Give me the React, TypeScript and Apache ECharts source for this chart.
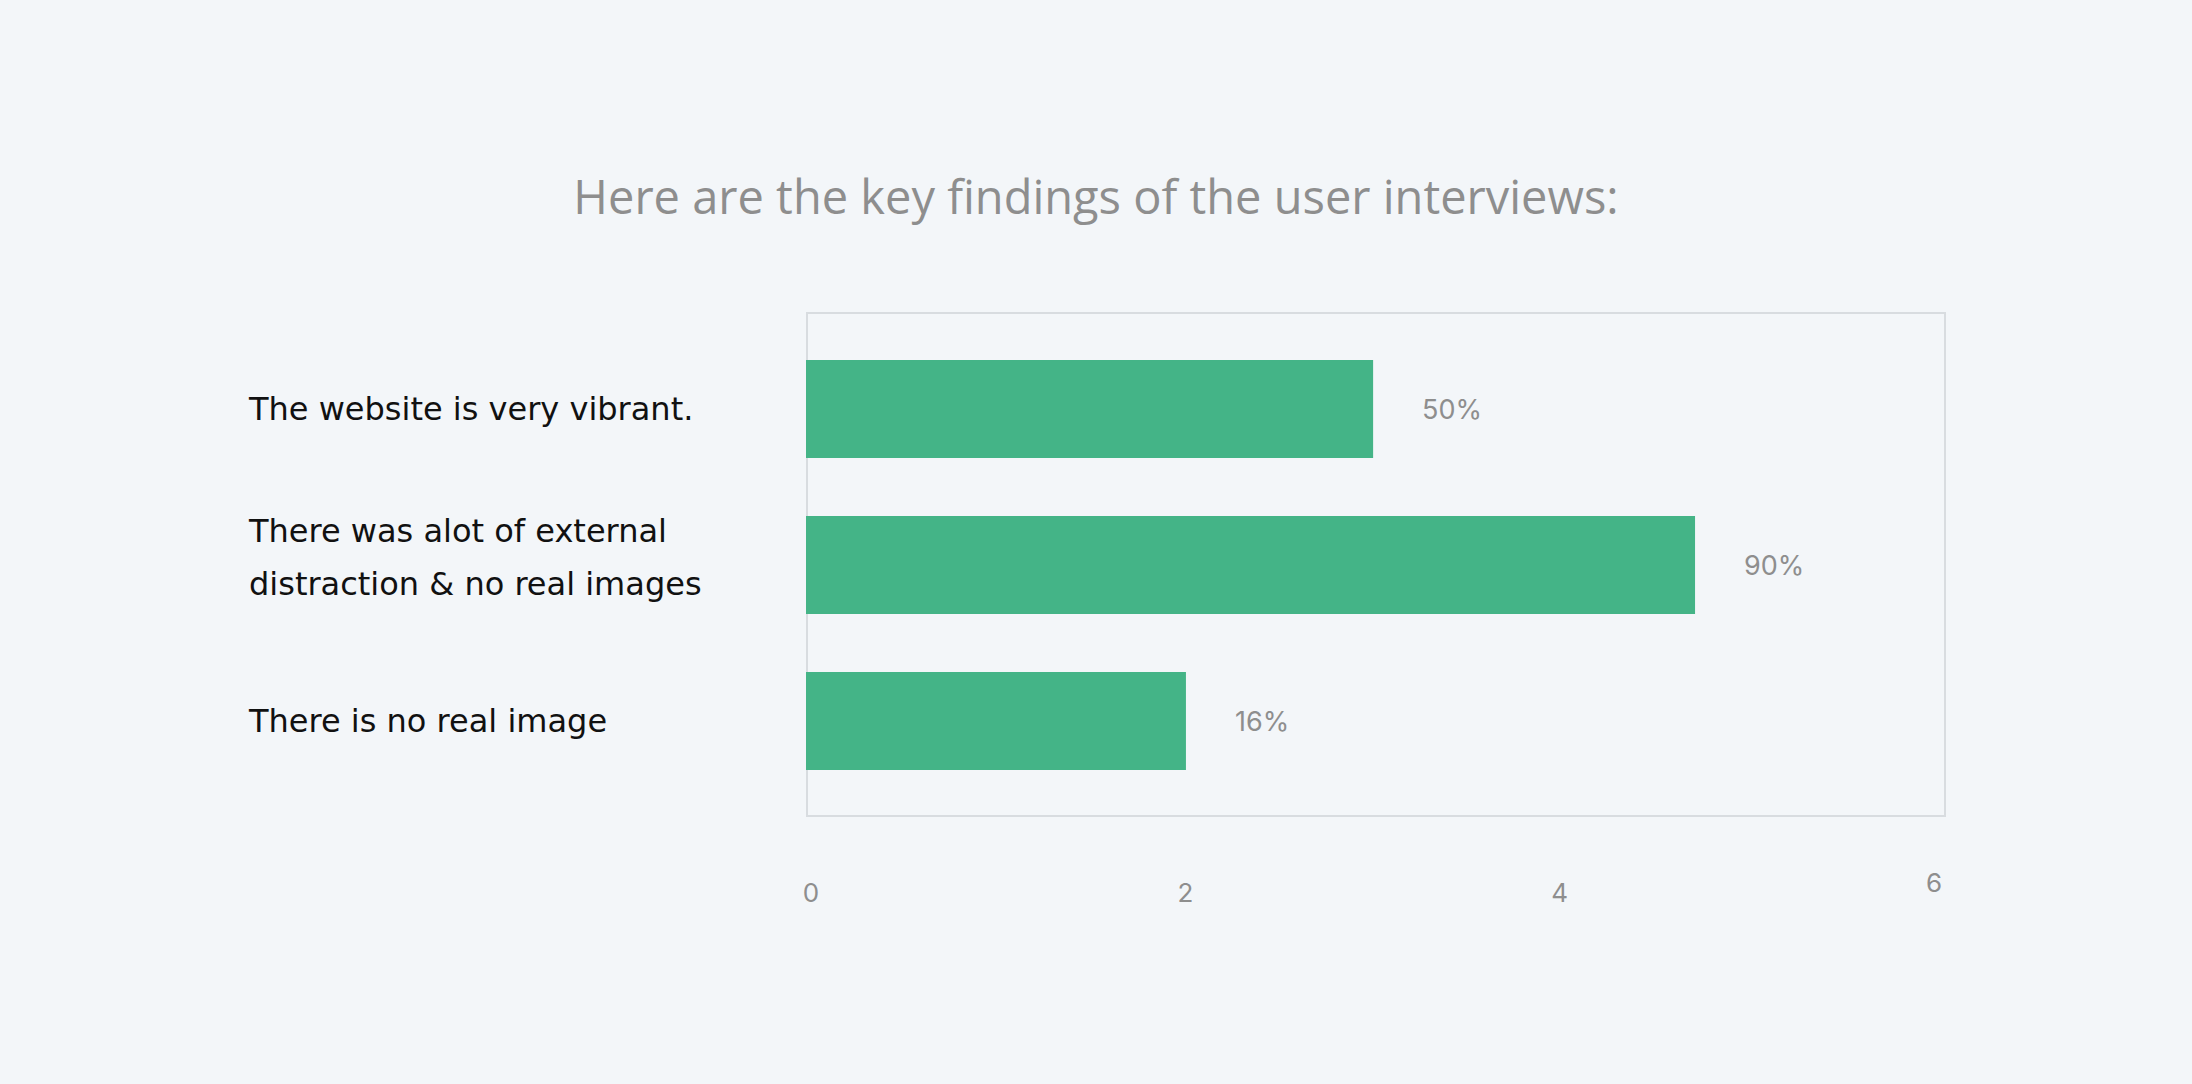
import React, { useEffect, useRef } from "react";
import * as echarts from "echarts";

const titleText = "Here are the key findings of the user interviews:";
const categories = [
  "The website is very vibrant.",
  "There was alot of external\ndistraction & no real images",
  "There is no real image",
];
const values = [3.03, 4.75, 2.03];
const valueLabels = ["50%", "90%", "16%"];
const axisMin = 0;
const axisMax = 6;
const axisStep = 2;

export default function App() {
  const ref = useRef<HTMLDivElement>(null);
  useEffect(() => {
    document.body.style.margin = "0";
    document.body.style.background = "#f3f6f9";
    const chart = echarts.init(ref.current!, null, { renderer: "svg" });
    const gridLeft = 806;
    const gridWidth = 1123;
    const catFont = {
      color: "#111111",
      fontFamily: "DejaVu Sans",
      fontSize: 32,
      align: "left",
    };
    chart.setOption({
      animation: false,
      backgroundColor: "#f3f6f9",
      title: {
        text: titleText,
        left: "center",
        top: 167,
        textStyle: {
          fontFamily: "Open Sans",
          fontSize: 47,
          fontWeight: "normal",
          color: "#8e8e8e",
        },
      },
      graphic: [
        {
          type: "rect",
          z: 0,
          shape: { x: 807, y: 313, width: 1138, height: 503 },
          style: { fill: "none", stroke: "#d8dce0", lineWidth: 2 },
        },
      ],
      grid: {
        left: gridLeft,
        top: 331,
        width: gridWidth,
        height: 468,
        containLabel: false,
        outerBoundsMode: "none",
      },
      xAxis: [
        {
          type: "value",
          min: axisMin,
          max: axisMax,
          interval: axisStep,
          axisLine: { show: false },
          axisTick: { show: false },
          splitLine: { show: false },
          axisLabel: {
            margin: 80,
            padding: [0, 0, 0, 10],
            color: "#8e8e8e",
            fontFamily: "Inter",
            fontSize: 26,
            formatter: (v: number) => (v === axisMax ? "" : String(v)),
          },
        },
        {
          type: "value",
          position: "bottom",
          min: axisMin,
          max: axisMax,
          interval: axisStep,
          axisLine: { show: false },
          axisTick: { show: false },
          splitLine: { show: false },
          axisLabel: {
            margin: 70,
            padding: [0, 0, 0, 10],
            color: "#8e8e8e",
            fontFamily: "Inter",
            fontSize: 26,
            formatter: (v: number) => (v === axisMax ? String(v) : ""),
          },
        },
      ],
      yAxis: {
        type: "category",
        inverse: true,
        data: categories,
        axisLine: { show: false },
        axisTick: { show: false },
        splitLine: { show: false },
        axisLabel: {
          ...catFont,
          lineHeight: 53,
          margin: gridLeft - 249,
          formatter: (v: string) => {
            const lines = v.split("\n");
            if (lines.length < 2) return v;
            return `{a|${lines[0]}}\n{b|${lines[1]}}`;
          },
          rich: {
            a: { ...catFont, lineHeight: 38 },
            b: { ...catFont, lineHeight: 68 },
          },
        },
      },
      series: [
        {
          type: "bar",
          xAxisIndex: 0,
          data: values,
          barWidth: 98,
          itemStyle: { color: "#44b487" },
          label: {
            show: true,
            position: "right",
            distance: 49,
            color: "#8e8e8e",
            fontFamily: "Inter",
            fontSize: 27,
            formatter: (p: any) => valueLabels[p.dataIndex],
          },
        },
      ],
    });
    return () => chart.dispose();
  }, []);
  return (
    <div
      ref={ref}
      style={{ position: "fixed", left: 0, top: 0, width: 2192, height: 1084 }}
    />
  );
}
